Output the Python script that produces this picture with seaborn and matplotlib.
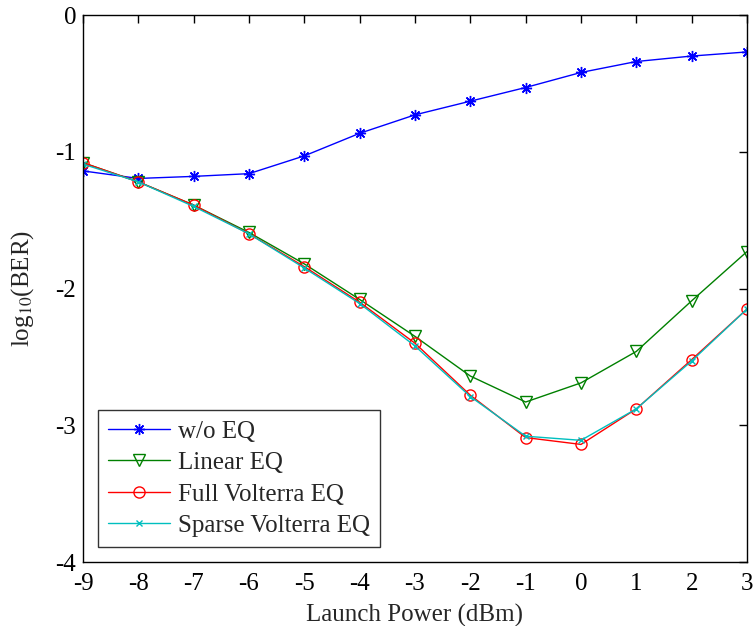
import numpy as np
import pandas as pd
import seaborn as sns
import matplotlib
matplotlib.use("Agg")
import matplotlib.pyplot as plt

launch_power = [-9, -8, -7, -6, -5, -4, -3, -2, -1, 0, 1, 2, 3]
ber_no_eq = [-1.14, -1.195, -1.18, -1.16, -1.03, -0.865, -0.73, -0.63, -0.53, -0.42, -0.34, -0.30, -0.27]
ber_linear = [-1.08, -1.22, -1.39, -1.59, -1.82, -2.08, -2.35, -2.64, -2.83, -2.69, -2.46, -2.09, -1.73]
ber_full = [-1.08, -1.22, -1.39, -1.60, -1.84, -2.10, -2.40, -2.78, -3.09, -3.14, -2.88, -2.52, -2.15]
ber_sparse = [-1.09, -1.22, -1.40, -1.60, -1.85, -2.11, -2.42, -2.79, -3.08, -3.11, -2.88, -2.53, -2.15]

series_names = ["w/o EQ", "Linear EQ", "Full Volterra EQ", "Sparse Volterra EQ"]
series_values = [ber_no_eq, ber_linear, ber_full, ber_sparse]
colors = {"w/o EQ": "#0000ff", "Linear EQ": "#008000",
          "Full Volterra EQ": "#ff0000", "Sparse Volterra EQ": "#00bfbf"}
# matlab style asterisk (8 spokes) for the first series
markers = {"w/o EQ": (8, 2, 0), "Linear EQ": "v", "Full Volterra EQ": "o", "Sparse Volterra EQ": "x"}
msizes = {"w/o EQ": 8, "Linear EQ": 9, "Full Volterra EQ": 8, "Sparse Volterra EQ": 4.5}

df = pd.concat([
    pd.DataFrame({"power": launch_power, "ber": v, "method": n})
    for n, v in zip(series_names, series_values)
])

sns.set_style("white")
plt.rcParams["font.family"] = ["Liberation Serif", "DejaVu Serif"]
plt.rcParams["mathtext.fontset"] = "stix"

fig = plt.figure(figsize=(7.53, 6.26), dpi=100)
ax = fig.add_axes([0.1102, 0.1022, 0.8818, 0.8738])

for n in series_names:
    sub = df[df["method"] == n]
    sns.lineplot(data=sub, x="power", y="ber", ax=ax, color=colors[n],
                 marker=markers[n], markersize=msizes[n], linewidth=1.0,
                 markerfacecolor="none" if markers[n] in ("v", "o") else colors[n],
                 markeredgecolor=colors[n], markeredgewidth=1.0, label=n)

ax.set_xlim(-9, 3)
ax.set_ylim(-4, 0)
ax.set_xticks(launch_power)
ax.set_yticks([-4, -3, -2, -1, 0])
ax.set_xticklabels([str(v) for v in launch_power])
ax.set_yticklabels(["-4", "-3", "-2", "-1", "0"])
ax.tick_params(direction="in", length=6, width=1, top=True, right=True,
               labelsize=18, colors="black")
ax.tick_params(axis="x", pad=8)
ax.tick_params(axis="y", pad=5)
for s in ax.spines.values():
    s.set_color("black")
    s.set_linewidth(1.0)
ax.set_xlabel("Launch Power (dBm)", fontsize=18, labelpad=6)
ax.set_ylabel(r"log$_{10}$(BER)", fontsize=18, labelpad=14)

leg = ax.legend(loc="lower left", bbox_to_anchor=(0.0226, 0.0274), fontsize=18,
                frameon=True, fancybox=False, handlelength=2.5, handletextpad=0.3,
                borderpad=0.4, labelspacing=0.36, borderaxespad=0)
leg.get_frame().set_edgecolor("black")
leg.get_frame().set_linewidth(1.0)

fig.savefig("out.png", dpi=100)
